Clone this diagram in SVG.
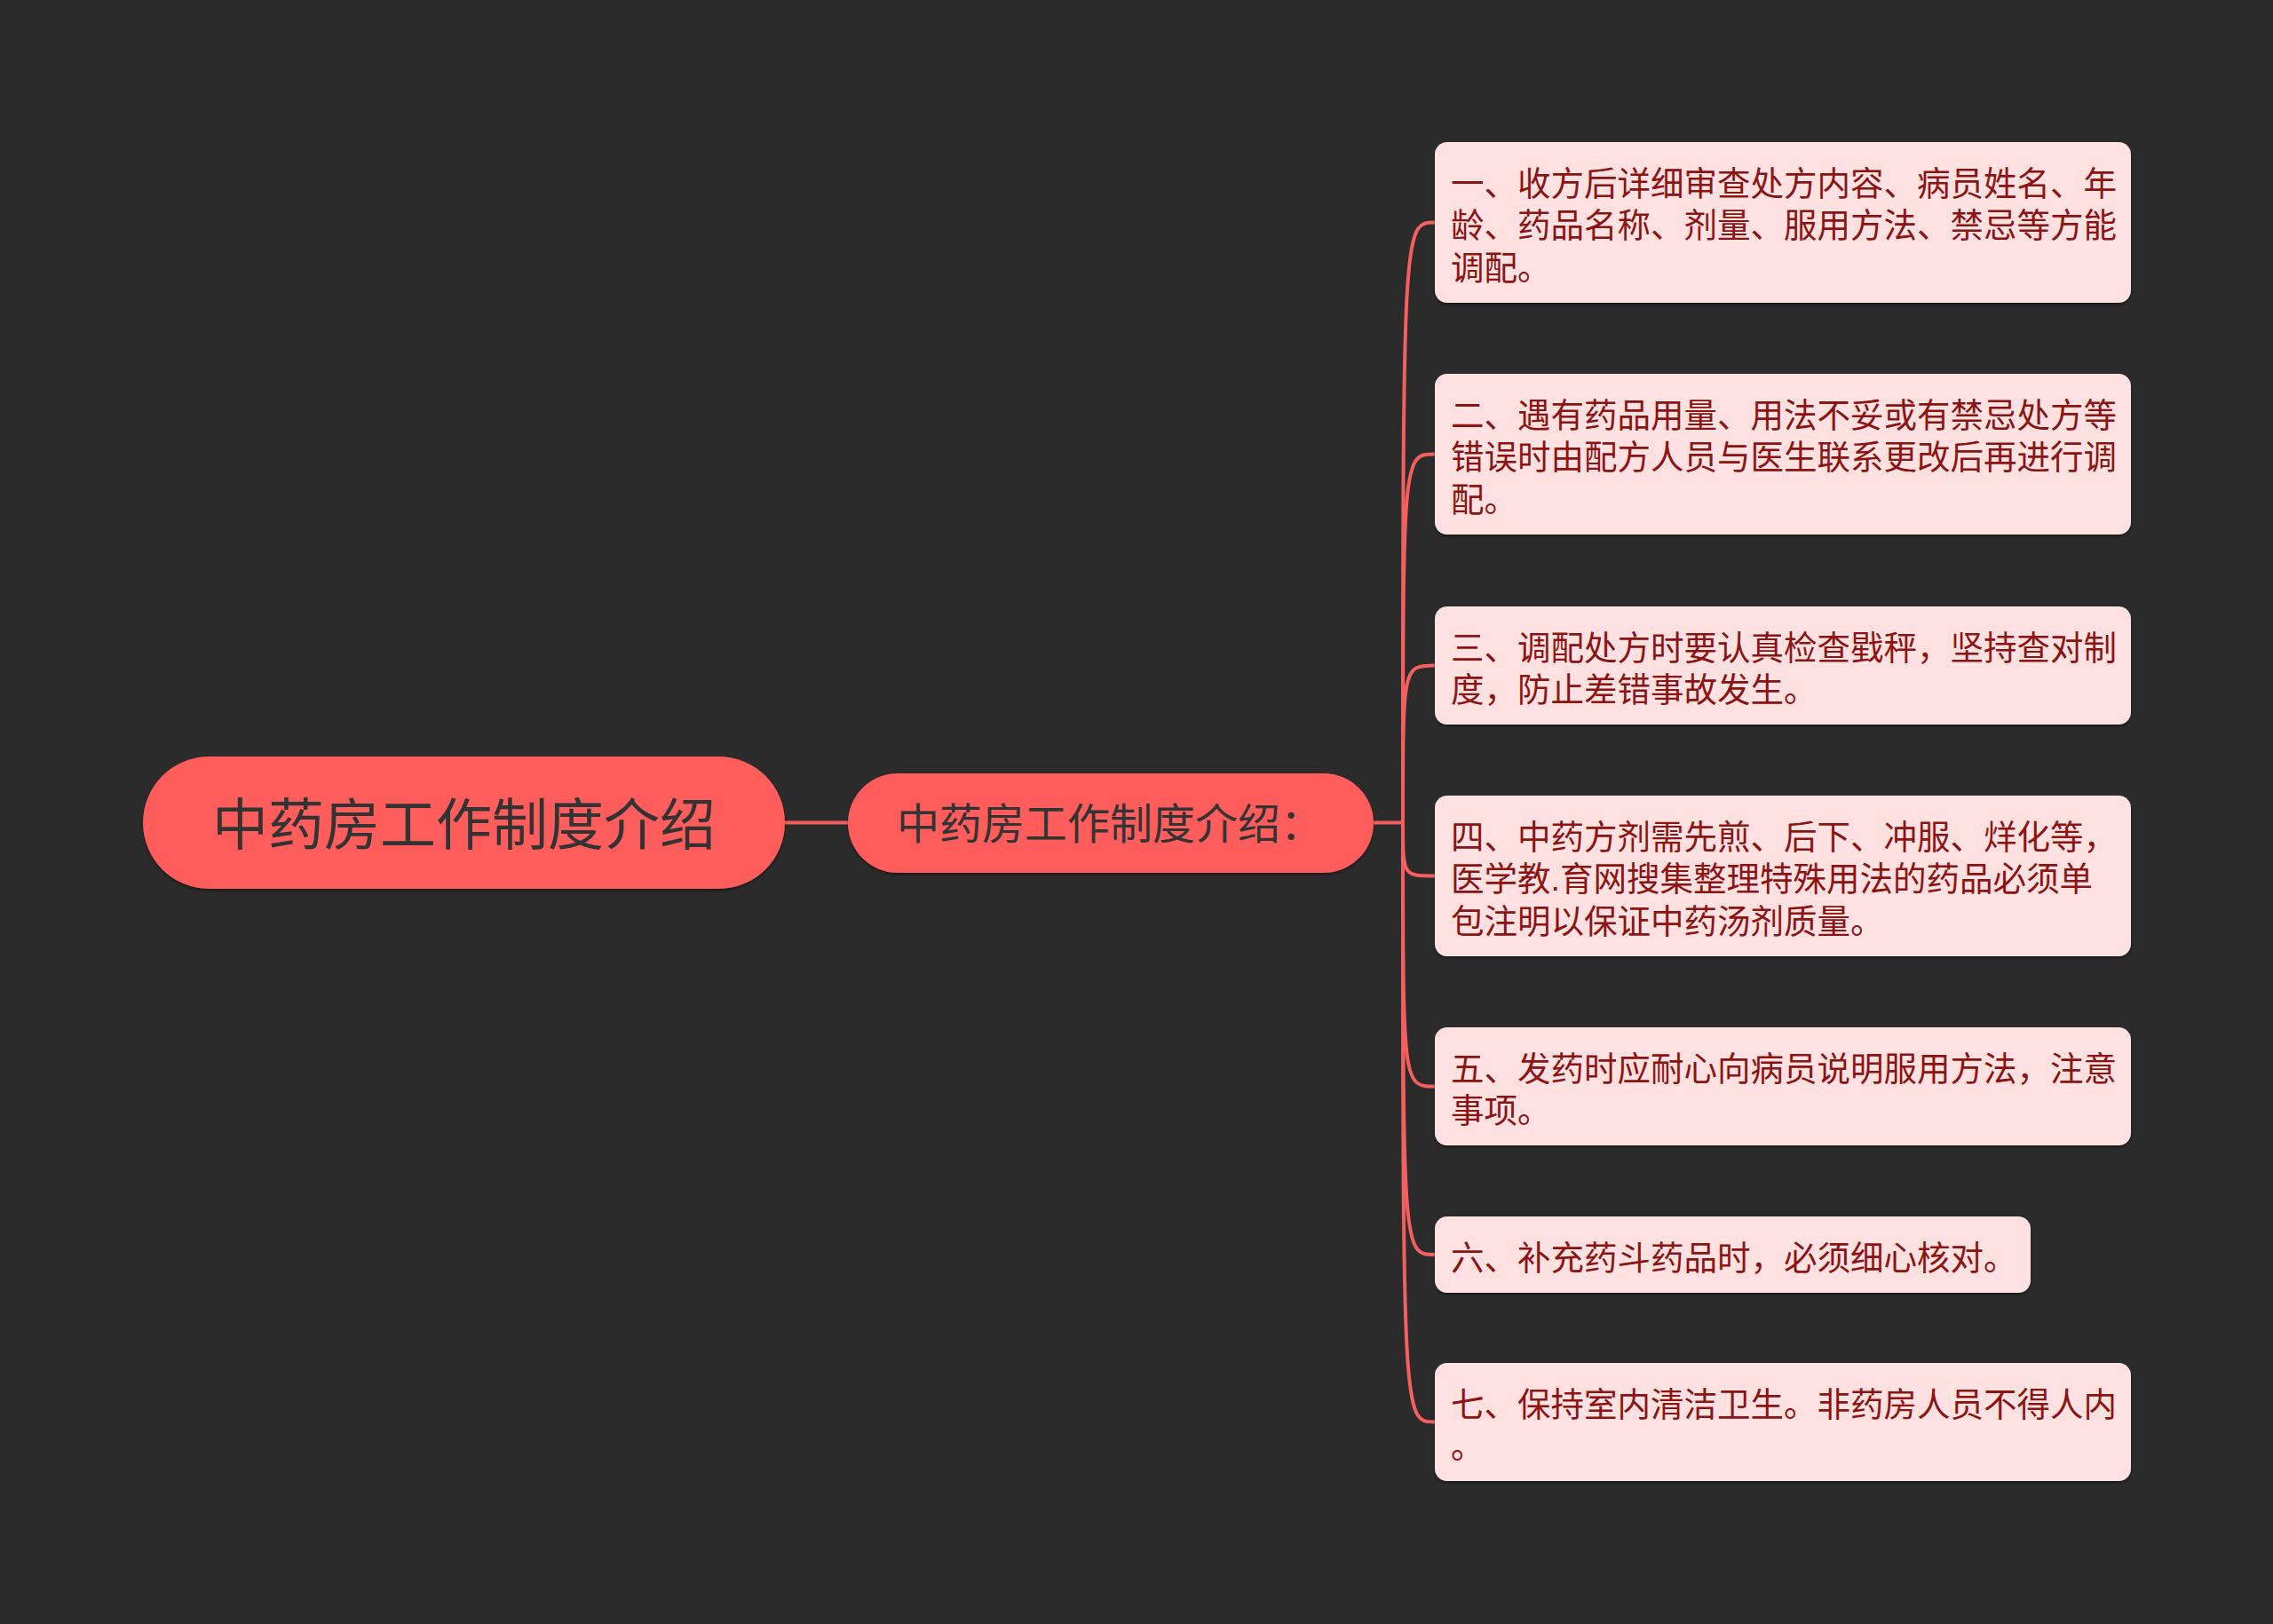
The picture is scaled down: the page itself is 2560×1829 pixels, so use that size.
<svg xmlns="http://www.w3.org/2000/svg" width="2560" height="1829" viewBox="0 0 2560 1829">
<defs>
<style>
.bg{fill:#2b2b2b}
.conn{fill:none;stroke:#f55f5f;stroke-width:4;stroke-linecap:round}
.root rect{fill:#ff5b5b}
.root text{font-family:"Liberation Sans","Noto Sans CJK SC",sans-serif;font-size:63px;fill:#333333}
.sub rect{fill:#ff5b5b}
.sub text{font-family:"Liberation Sans","Noto Sans CJK SC",sans-serif;font-size:48px;fill:#333333}
.leaf rect{fill:#ffe1e1}
.leaf text{font-family:"Liberation Sans","Noto Sans CJK SC",sans-serif;font-size:37.5px;fill:#8e1414}
</style>
<filter id="sh" x="-5%" y="-10%" width="110%" height="125%">
<feDropShadow dx="0" dy="2" stdDeviation="1.5" flood-color="#000000" flood-opacity="0.45"/>
</filter>
</defs>
<rect class="bg" x="0" y="0" width="2560" height="1829"/>
<g id="connectors">
<path class="conn" d="M884 926.5 L955 926.5"/>
<path class="conn" d="M1547 926.5 L1580 926.5"/>
<path class="conn" d="M1580 926.5 C1580 250.5 1580 250.5 1616 250.5"/>
<path class="conn" d="M1580 926.5 C1580 511.5 1580 511.5 1616 511.5"/>
<path class="conn" d="M1580 926.5 C1580 749.5 1580 749.5 1616 749.5"/>
<path class="conn" d="M1580 926.5 C1580 986.5 1580 986.5 1616 986.5"/>
<path class="conn" d="M1580 926.5 C1580 1223.5 1580 1223.5 1616 1223.5"/>
<path class="conn" d="M1580 926.5 C1580 1413 1580 1413 1616 1413"/>
<path class="conn" d="M1580 926.5 C1580 1601.5 1580 1601.5 1616 1601.5"/>
</g>
<g id="root" class="root">
<rect x="161" y="852" width="723" height="149" rx="74.5" filter="url(#sh)"/>
<text x="522.5" y="951" text-anchor="middle">中药房工作制度介绍</text>
</g>
<g id="sub" class="sub">
<rect x="955" y="871" width="592" height="112" rx="56" filter="url(#sh)"/>
<text x="1010" y="945">中药房工作制度介绍：</text>
</g>
<g id="leaf1" class="leaf">
<rect x="1616" y="160" width="784" height="181" rx="14" filter="url(#sh)"/>
<text x="1634" y="219.5">一、收方后详细审查处方内容、病员姓名、年</text>
<text x="1634" y="267">龄、药品名称、剂量、服用方法、禁忌等方能</text>
<text x="1634" y="314.5">调配。</text>
</g>
<g id="leaf2" class="leaf">
<rect x="1616" y="421" width="784" height="181" rx="14" filter="url(#sh)"/>
<text x="1634" y="480.5">二、遇有药品用量、用法不妥或有禁忌处方等</text>
<text x="1634" y="528">错误时由配方人员与医生联系更改后再进行调</text>
<text x="1634" y="575.5">配。</text>
</g>
<g id="leaf3" class="leaf">
<rect x="1616" y="683" width="784" height="133" rx="14" filter="url(#sh)"/>
<text x="1634" y="742.5">三、调配处方时要认真检查戥秤，坚持查对制</text>
<text x="1634" y="790">度，防止差错事故发生。</text>
</g>
<g id="leaf4" class="leaf">
<rect x="1616" y="896" width="784" height="181" rx="14" filter="url(#sh)"/>
<text x="1634" y="955.5">四、中药方剂需先煎、后下、冲服、烊化等，</text>
<text x="1634" y="1003">医学教.育网搜集整理特殊用法的药品必须单</text>
<text x="1634" y="1050.5">包注明以保证中药汤剂质量。</text>
</g>
<g id="leaf5" class="leaf">
<rect x="1616" y="1157" width="784" height="133" rx="14" filter="url(#sh)"/>
<text x="1634" y="1216.5">五、发药时应耐心向病员说明服用方法，注意</text>
<text x="1634" y="1264">事项。</text>
</g>
<g id="leaf6" class="leaf">
<rect x="1616" y="1370" width="671" height="86" rx="14" filter="url(#sh)"/>
<text x="1634" y="1429.5">六、补充药斗药品时，必须细心核对。</text>
</g>
<g id="leaf7" class="leaf">
<rect x="1616" y="1535" width="784" height="133" rx="14" filter="url(#sh)"/>
<text x="1634" y="1594.5">七、保持室内清洁卫生。非药房人员不得人内</text>
<text x="1634" y="1642">。</text>
</g>
</svg>
